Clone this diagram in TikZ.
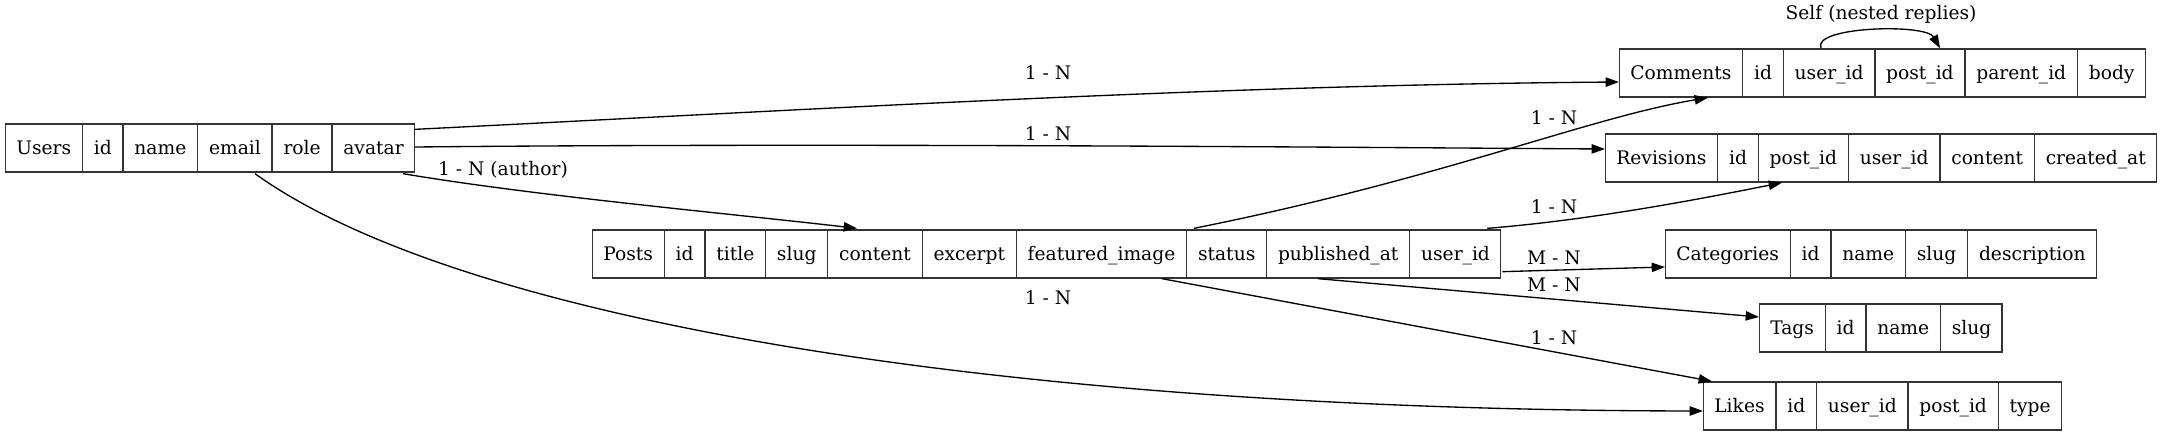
\documentclass[tikz,border=0pt]{standalone}
\usepackage{fontspec}
\setmainfont{DejaVu Serif}
\usepackage{tikz}
\usetikzlibrary{arrows.meta,shapes.multipart,calc}

\begin{document}
\begin{tikzpicture}[
  x=0.75bp, y=-0.75bp,
  >={Triangle[length=10bp,width=7bp]},
  font=\fontsize{14bp}{17bp}\selectfont,
  tbl/.style={draw=black!80, line width=1bp, rectangle split, rectangle split horizontal, rectangle split part align=base, inner xsep=8bp, inner ysep=0pt, text height=22.7bp, text depth=13.3bp, anchor=west},
  lbl/.style={inner sep=0pt},
  arr/.style={->, line width=1bp}
]
\useasboundingbox (0,0) rectangle (2163,436);

\node[tbl, rectangle split parts=6] (users) at (5,148) {Users\nodepart{two}id\nodepart{three}name\nodepart{four}email\nodepart{five}role\nodepart{six}avatar};
\node[tbl, rectangle split parts=10] (posts) at (592,254) {Posts\nodepart{two}id\nodepart{three}title\nodepart{four}slug\nodepart{five}content\nodepart{six}excerpt\nodepart{seven}featured\_image\nodepart{eight}status\nodepart{nine}published\_at\nodepart{ten}user\_id};
\node[tbl, rectangle split parts=6] (comments) at (1619,73) {Comments\nodepart{two}id\nodepart{three}user\_id\nodepart{four}post\_id\nodepart{five}parent\_id\nodepart{six}body};
\node[tbl, rectangle split parts=6] (revisions) at (1605,158) {Revisions\nodepart{two}id\nodepart{three}post\_id\nodepart{four}user\_id\nodepart{five}content\nodepart{six}created\_at};
\node[tbl, rectangle split parts=5] (categories) at (1665,254) {Categories\nodepart{two}id\nodepart{three}name\nodepart{four}slug\nodepart{five}description};
\node[tbl, rectangle split parts=4] (tags) at (1759,328) {Tags\nodepart{two}id\nodepart{three}name\nodepart{four}slug};
\node[tbl, rectangle split parts=5] (likes) at (1703,406) {Likes\nodepart{two}id\nodepart{three}user\_id\nodepart{four}post\_id\nodepart{five}type};

\node[lbl] (lab1) at (1048,73) {1 - N};
\node[lbl] (lab2) at (1048,134) {1 - N};
\node[lbl] (lab3) at (503,170) {1 - N (author)};
\node[lbl] (lab4) at (1048,298) {1 - N};
\node[lbl] (lab5) at (1554,118) {1 - N};
\node[lbl] (lab6) at (1554,207) {1 - N};
\node[lbl] (lab7) at (1554,258) {M - N};
\node[lbl] (lab8) at (1554,285) {M - N};
\node[lbl] (lab9) at (1554,338) {1 - N};
\node[lbl] (lab10) at (1881,14) {Self (nested replies)};

\draw[arr] ($(users.north east)+(0,6)$) .. controls +(400,-20) and +(-400,3) .. ($(comments.west)+(0,9)$);
\draw[arr] ($(users.east)+(0,-1)$) .. controls +(400,-4) and +(-300,-2) .. ($(revisions.west)+(0,-9)$);
\draw[arr] ($(users.south east)+(-12,1)$) .. controls +(130,22) and +(-130,-15) .. ($(posts.north west)+(265,-1)$);
\draw[arr] ($(users.south west)+(250,1)$) .. controls +(205,147) and +(-703,-1) .. ($(likes.west)+(0,5)$);
\draw[arr] ($(posts.north west)+(602,-1)$) .. controls +(250,-50) and +(-120,20) .. ($(comments.south west)+(89,0)$);
\draw[arr] ($(posts.north east)+(-14,-1)$) .. controls +(100,-8) and +(-90,18) .. ($(revisions.south west)+(177,0)$);
\draw[arr] ($(posts.south east)+(1,-7)$) -- ($(categories.west)+(0,13)$);
\draw[arr] ($(posts.south west)+(726,0)$) -- ($(tags.west)+(0,-11)$);
\draw[arr] ($(posts.south west)+(570,0)$) -- ($(likes.north west)+(9,0)$);
\draw[arr] ($(comments.north west)+(202,0)$) .. controls +(-10,-22) and +(-14,-25) .. ($(comments.north west)+(321,0)$);
\end{tikzpicture}
\end{document}
